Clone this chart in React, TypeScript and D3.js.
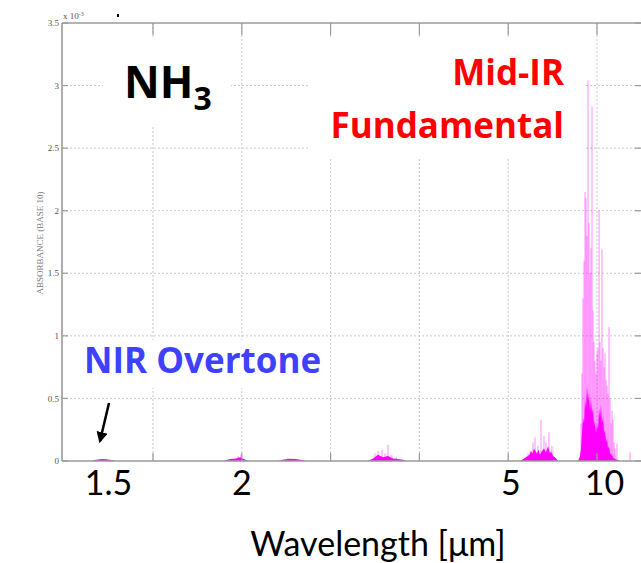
import React from "react";
import * as d3 from "d3";

// ---- data (wavenumber in cm^-1, absorbance in units of 1e-3) ----
const xGridWavenumbers = [6000, 5000, 4000, 3000, 2000, 1000];
const yTicks = [0, 0.5, 1, 1.5, 2, 2.5, 3, 3.5];
const xLabelText = ["1.5", "2", "5", "10"];
const xLabelWavenumbers = [6500, 5000, 1970, 915];

// dense low-level absorption envelope
const envelope: [number, number][] = [
  [6690, 0], [6642, 0.01], [6574, 0.016], [6507, 0.012], [6450, 0.005], [6428, 0],
  [5200, 0], [5133, 0.015], [5065, 0.02], [5020, 0.03], [4975, 0.015], [4930, 0],
  [4592, 0], [4525, 0.012], [4457, 0.018], [4390, 0.015], [4322, 0.008], [4277, 0],
  [3579, 0], [3523, 0.02], [3466, 0.05], [3410, 0.03], [3354, 0.04], [3297, 0.02], [3241, 0.015], [3185, 0.01], [3150, 0],
  [1867, 0], [1800, 0.03], [1760, 0.05], [1743, 0.08], [1725, 0.06], [1710, 0.1], [1676, 0.06], [1660, 0.09], [1642, 0.05],
  [1620, 0.08], [1597, 0.1], [1575, 0.07], [1552, 0.12], [1530, 0.06], [1518, 0.08], [1495, 0.04], [1473, 0.03], [1439, 0],
  [1214, 0], [1191, 0.04], [1180, 0.1], [1169, 0.22], [1158, 0.35], [1146, 0.3], [1135, 0.5], [1124, 0.42], [1113, 0.6],
  [1101, 0.48], [1090, 0.55], [1079, 0.4], [1068, 0.5], [1056, 0.38], [1045, 0.42], [1034, 0.28], [1023, 0.32], [1011, 0.22],
  [1000, 0.3], [989, 0.25], [977, 0.42], [966, 0.35], [955, 0.45], [944, 0.3], [932, 0.36], [921, 0.22], [910, 0.25],
  [898, 0.15], [887, 0.18], [876, 0.1], [865, 0.12], [853, 0.06], [842, 0.06], [820, 0.03], [808, 0.02], [774, 0.01], [741, 0],
];

// individual absorption lines
const lines: [number, number][] = [
  [6600, 0.015], [6530, 0.02],
  [5040, 0.04], [5010, 0.05],
  [4480, 0.025],
  [3500, 0.06], [3466, 0.08], [3420, 0.09], [3388, 0.06], [3354, 0.13], [3310, 0.05], [3260, 0.03],
  [1777, 0.06], [1754, 0.08], [1721, 0.15], [1698, 0.19], [1665, 0.12], [1631, 0.33], [1597, 0.2], [1575, 0.15], [1541, 0.23], [1507, 0.12],
  [1180, 0.3], [1169, 0.7], [1158, 1.3], [1146, 1.6], [1135, 2.15], [1124, 2.1], [1113, 1.8], [1101, 3.04],
  [1090, 1.9], [1079, 1.5], [1068, 1.7], [1056, 2.83], [1045, 1.2], [1034, 0.95], [1023, 0.8], [1011, 0.7],
  [1000, 0.86], [989, 0.9], [977, 2.0], [966, 0.95], [955, 0.8], [944, 1.69], [932, 0.9], [921, 0.75],
  [910, 0.86], [898, 0.65], [887, 0.6], [876, 0.54], [865, 1.07], [853, 0.5], [842, 0.3], [831, 0.4],
  [820, 0.33], [808, 0.15], [797, 0.1], [775, 0.14], [628, 0.07],
];

const W = 641, H = 563;
const left = 62, right = 645, top = 23, bottom = 461;

export default function App() {
  const x = d3.scaleLinear().domain([6000, 1000]).range([153, 597]);
  const y = d3.scaleLinear().domain([0, 3.5]).range([bottom, top]);
  const area = d3.area<[number, number]>()
    .x((d) => x(d[0]))
    .y0(y(0))
    .y1((d) => y(d[1]));

  const axisColor = "#9a9a9a";
  const gridColor = "#c8c8c8";
  const labelFont = "Lato, 'Open Sans', sans-serif";
  const boldFont = "'Open Sans', Lato, sans-serif";

  return (
    <div style={{ position: "fixed", left: 0, top: 0 }}>
      <svg width={W} height={H} style={{ display: "block", background: "#fff" }}>
        <defs>
          <clipPath id="plot">
            <rect x={left} y={top} width={right - left} height={bottom - top} />
          </clipPath>
          <marker id="ah" viewBox="0 0 10 10" refX="8" refY="5" markerWidth="4.5" markerHeight="4.5" orient="auto">
            <path d="M0,0 L10,5 L0,10 z" fill="#000" />
          </marker>
        </defs>

        {/* grid */}
        <g stroke={gridColor} strokeWidth={1} strokeDasharray="2,2">
          {xGridWavenumbers.map((w) => (
            <line key={"gx" + w} x1={x(w)} x2={x(w)} y1={top} y2={bottom} />
          ))}
          {yTicks.filter((t) => t > 0 && t < 3.5).map((t) => (
            <line key={"gy" + t} x1={left} x2={right} y1={y(t)} y2={y(t)} />
          ))}
        </g>

        {/* spectrum */}
        <g clipPath="url(#plot)">
          <path d={area(envelope) || ""} fill="#ff00ff" />
          {lines.map(([w, v], i) => (
            <line key={"l" + i} x1={x(w)} x2={x(w)} y1={y(0)} y2={y(v)} stroke="#ff00ff" strokeWidth={1} strokeOpacity={0.45} />
          ))}
        </g>

        {/* axes frame */}
        <g stroke={axisColor} strokeWidth={1.6} fill="none">
          <line x1={left} x2={left} y1={top} y2={bottom} />
          <line x1={left} x2={W} y1={top} y2={top} />
          <line x1={left} x2={W} y1={bottom} y2={bottom} />
        </g>
        <g stroke={axisColor} strokeWidth={1.2}>
          {xGridWavenumbers.map((w) => (
            <g key={"tx" + w}>
              <line x1={x(w)} x2={x(w)} y1={top} y2={top + 12} />
              <line x1={x(w)} x2={x(w)} y1={bottom} y2={bottom - 8} />
            </g>
          ))}
          {yTicks.map((t) => (
            <g key={"ty" + t}>
              <line x1={left} x2={left + 6} y1={y(t)} y2={y(t)} />
              <line x1={W} x2={W - 6} y1={y(t)} y2={y(t)} />
            </g>
          ))}
        </g>

        {/* y tick labels */}
        <g fontFamily="'Liberation Serif', serif" fontSize={9} fill="#555" textAnchor="end">
          {yTicks.map((t) => (
            <text key={"yl" + t} x={left - 3} y={y(t)} dy="0.35em">{String(t)}</text>
          ))}
        </g>
        <text x={63} y={19} fontFamily="'Liberation Serif', serif" fontSize={9} fill="#555">
          x 10<tspan dy={-3} fontSize={6}>-3</tspan>
        </text>
        <rect x={117} y={14} width={2} height={3} fill="#000" />
        <text
          transform={`translate(43,243) rotate(-90)`}
          textAnchor="middle"
          fontFamily="'Liberation Serif', serif"
          fontSize={9}
          fill="#777"
        >
          ABSORBANCE (BASE 10)
        </text>

        {/* annotation boxes */}
        <rect x={103} y={37} width={128} height={88} fill="#fff" />
        <rect x={310} y={37} width={274} height={121} fill="#fff" />
        <rect x={80} y={340} width={250} height={48} fill="#fff" />

        {/* annotations */}
        <text x={124} y={98} fontFamily={boldFont} fontWeight={700} fontSize={44} fill="#000">
          NH<tspan fontSize={32} dy={12}>3</tspan>
        </text>
        <text x={564} y={85} textAnchor="end" fontFamily={boldFont} fontWeight={700} fontSize={35} fill="#ff0000">Mid-IR</text>
        <text x={564} y={138} textAnchor="end" fontFamily={boldFont} fontWeight={700} fontSize={35} fill="#ff0000">Fundamental</text>
        <text x={84} y={373} fontFamily={boldFont} fontWeight={700} fontSize={35} fill="#4040ff">NIR Overtone</text>

        <line x1={109} y1={403} x2={100} y2={441} stroke="#000" strokeWidth={2.5} markerEnd="url(#ah)" />

        {/* x labels (wavelength) */}
        <g fontFamily={labelFont} fontSize={34} fill="#000" textAnchor="middle">
          {xLabelText.map((s, i) => (
            <text key={"xl" + i} x={x(xLabelWavenumbers[i])} y={495}>{s}</text>
          ))}
        </g>
        <text x={378} y={556} textAnchor="middle" fontFamily={labelFont} fontSize={34} fill="#000">
          Wavelength [μm]
        </text>
      </svg>
    </div>
  );
}
